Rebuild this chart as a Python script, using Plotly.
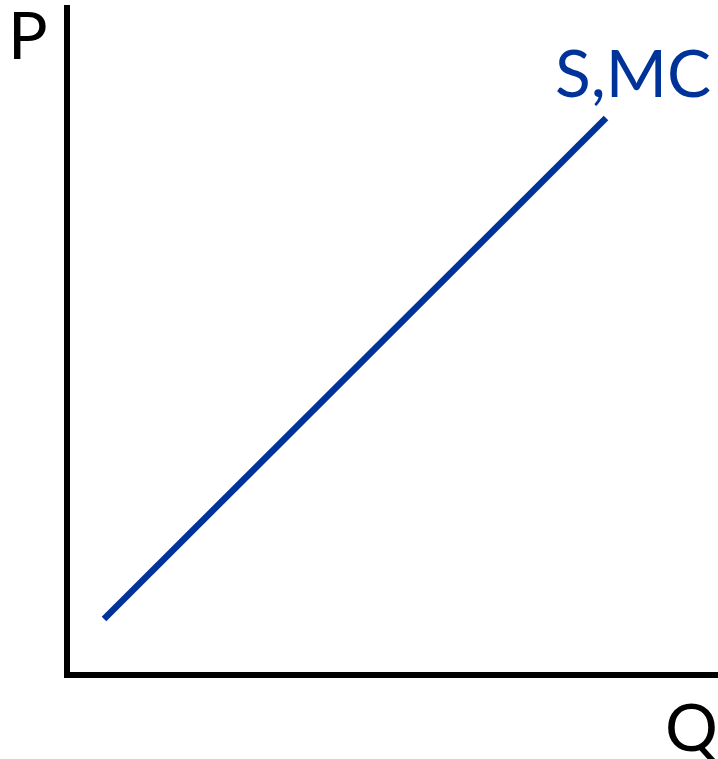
import plotly.graph_objects as go

# Supply (marginal cost) curve endpoints
supply_q = [0.74, 10.78]
supply_p = [1.12, 11.14]

# Axis extents
axis_q_end = 13.02
axis_p_end = 13.40

labels = {"P": (-0.78, 12.83), "S,MC": (11.32, 12.07), "Q": (12.48, -1.0)}

BLUE = "#003399"
FONT = "Lato"

fig = go.Figure()
fig.add_trace(go.Scatter(x=supply_q, y=supply_p, mode="lines",
                         line=dict(color=BLUE, width=6.5), hoverinfo="skip",
                         showlegend=False))

# axes as thick black lines
fig.add_shape(type="line", x0=0, x1=0, y0=-0.04, y1=axis_p_end,
              line=dict(color="black", width=6), xref="x", yref="y")
fig.add_shape(type="line", x0=-0.06, x1=axis_q_end, y0=0, y1=0,
              line=dict(color="black", width=6), xref="x", yref="y")

for txt, (x, y) in labels.items():
    fig.add_annotation(x=x, y=y, text=txt, showarrow=False,
                       xanchor="center", yanchor="middle",
                       font=dict(family=FONT, size=66,
                                 color=BLUE if txt == "S,MC" else "black"))

fig.update_layout(
    width=718, height=759,
    margin=dict(l=0, r=0, t=0, b=0),
    paper_bgcolor="white", plot_bgcolor="white",
    xaxis=dict(range=[-1.34, 13.02], visible=False, fixedrange=True),
    yaxis=dict(range=[-1.68, 13.5], visible=False, fixedrange=True),
)

fig.write_html(
    "out.html",
    config={"displayModeBar": False},
    post_script="document.body.style.margin='0';document.body.style.overflow='hidden';",
)
